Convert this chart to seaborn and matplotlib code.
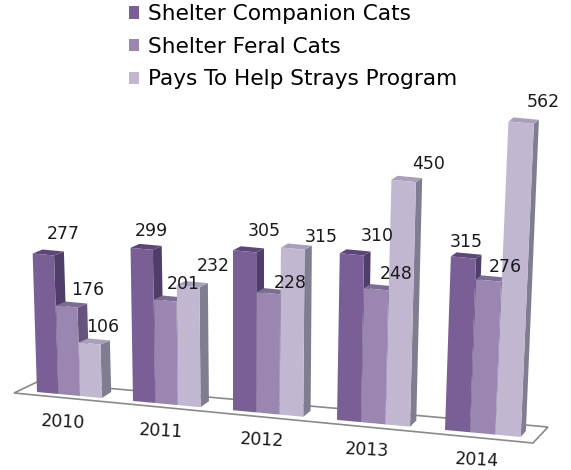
import numpy as np
import pandas as pd
import matplotlib
matplotlib.use("Agg")
import matplotlib.pyplot as plt
import seaborn as sb
from matplotlib.patches import Polygon
from matplotlib.transforms import Affine2D

#%% Data

years = ["2010", "2011", "2012", "2013", "2014"]
series_names = ["Shelter Companion Cats", "Shelter Feral Cats", "Pays To Help Strays Program"]
companion = [277, 299, 305, 310, 315]
feral = [176, 201, 228, 248, 276]
pays = [106, 232, 315, 450, 562]

front_colors = ["#7a5e96", "#9a86b0", "#c1b7d1"]
side_colors = ["#4f3d6a", "#65557c", "#817d90"]
top_colors = ["#5c4876", "#7d6c92", "#a89fba"]

# label shift from the top of the bar, in pixels
label_shift = [
    [(20, -20), (10, -18), (20, -20), (25, -18), (3, -16)],
    [(21, -17), (18, -17), (22, -10), (20, -15), (17, -14)],
    [(13, -16), (25, -20), (28, -12), (25, -17), (22, -21)],
]

W, H = 571, 470
group_width = 0.68

df = pd.DataFrame({
    "year": years * 3,
    "series": np.repeat(series_names, len(years)),
    "count": companion + feral + pays,
})

#%% Fake 3D projection, bar data -> picture pixels

def project(x, v):
    xp = x + group_width / 2 - 2
    bx = 233 + 102 * xp + 2 * xp ** 2
    by = 392 + 0.093 * (bx - 37)
    h = v * (0.5 + (bx - 37) * 0.000125)
    return np.array([bx + (bx - 233) * 0.00016 * h, by - h])

def depth(px_x, up):
    return np.array([10 - (px_x - 37) * 0.01, -up])

#%% Plot

plt.rcParams["font.family"] = ["DejaVu Sans"]
fig = plt.figure(figsize=(W / 100, H / 100), dpi=100)
ax = fig.add_axes([0, 0, 1, 1])

sb.barplot(data=df, x="year", y="count", hue="series", order=years, hue_order=series_names,
           palette=front_colors, saturation=1, width=group_width, gap=0, ax=ax)

pixels = Affine2D().scale(1, -1).translate(0, H)

# floor
ax.add_patch(Polygon([(14, 393), (533, 443), (548, 427), (37, 382)], closed=True, fill=False,
                     edgecolor="#8a8a8a", linewidth=1.2, transform=pixels, zorder=1, clip_on=False))

for s, cont in enumerate(ax.containers):
    for i, bar in enumerate(cont):
        x, w, v = bar.get_x(), bar.get_width(), bar.get_height()
        p0, p1, p2 = project(x, 0), project(x + w, 0), project(x, v)
        p3 = p1 + p2 - p0
        a = (p1 - p0) / w
        b = (p2 - p0) / v
        t = p0 - a * x
        m = np.array([[a[0], b[0], t[0]], [a[1], b[1], t[1]], [0, 0, 1]])
        z = 3 + 2 * s
        bar.set_transform(Affine2D(m) + pixels)
        bar.set_linewidth(0)
        bar.set_clip_on(False)
        bar.set_zorder(z + 1)

        d_top = depth(p3[0], 4)
        d_bot = depth(p1[0], 6)
        ax.add_patch(Polygon([p1, p3, p3 + d_top, p1 + d_bot], closed=True, facecolor=side_colors[s],
                             linewidth=0, transform=pixels, zorder=z, clip_on=False))
        ax.add_patch(Polygon([p2, p3, p3 + d_top, p2 + d_top], closed=True, facecolor=top_colors[s],
                             linewidth=0, transform=pixels, zorder=z, clip_on=False))

        cx, cy = (p2 + p3) / 2
        dx, dy = label_shift[s][i]
        ax.text(cx + dx, cy + dy, f"{v:.0f}", transform=pixels, ha="center", va="center",
                fontsize=12.5, color="#1a1a1a", zorder=20, clip_on=False)

for i, year in enumerate(years):
    cx, cy = project(i, 0)
    ax.text(cx - 6, cy + 27, year, transform=pixels, ha="center", va="center", rotation=-3,
            fontsize=12.5, color="#1a1a1a", zorder=20, clip_on=False)

sb.move_legend(ax, "upper left", bbox_to_anchor=(0.226, 0.991), frameon=False, title=None,
               fontsize=15.6, handlelength=0.48, handleheight=0.48, handletextpad=0.38,
               labelspacing=0.58, borderpad=0, borderaxespad=0)

ax.axis("off")
fig.savefig("out.png", dpi=100)
